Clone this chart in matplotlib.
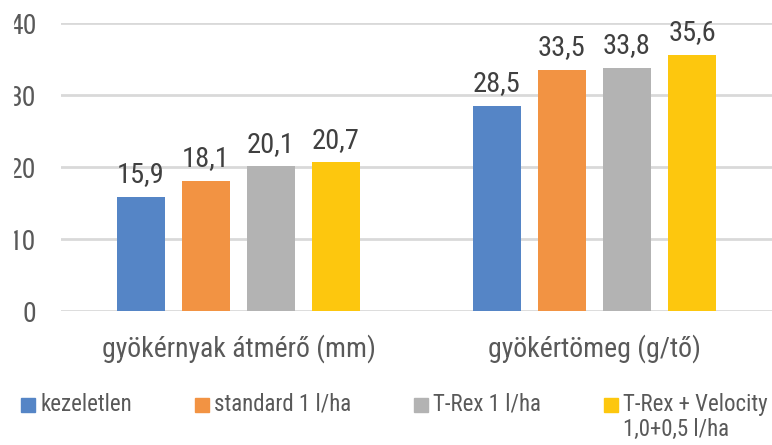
import matplotlib
matplotlib.use("Agg")
import matplotlib.pyplot as plt
from matplotlib.patches import Rectangle
import numpy as np

plt.rcParams["font.family"] = ["Roboto Condensed", "DejaVu Sans"]

categories = ["gyökérnyak átmérő (mm)", "gyökértömeg (g/tő)"]
series = ["kezeletlen", "standard 1 l/ha", "T-Rex 1 l/ha", "T-Rex + Velocity\n1,0+0,5 l/ha"]
values = [
    [15.9, 28.5],
    [18.1, 33.5],
    [20.1, 33.8],
    [20.7, 35.6],
]
colors = ["#5585C6", "#F29343", "#B3B3B3", "#FDC70E"]
yticks = [0, 10, 20, 30, 40]

dark = "#404040"
grey = "#595959"
W, H = 772, 445
fig = plt.figure(figsize=(W / 100, H / 100), dpi=100)
ax = fig.add_axes([60.5 / W, 134 / H, 712 / W, 288 / H])

x = np.arange(len(categories))
step = 0.1826
width = 0.135
for i, (name, vals, c) in enumerate(zip(series, values, colors)):
    offs = (i - (len(series) - 1) / 2) * step
    bars = ax.bar(x + offs, vals, width, color=c, zorder=3)
    ax.bar_label(bars, labels=[f"{v:.1f}".replace(".", ",") for v in vals],
                 padding=6, fontsize=20.5, color=dark)

ax.set_xlim(-0.5, 1.5)
ax.set_ylim(0, 40)
ax.set_yticks(yticks)
ax.set_xticks(x)
ax.set_xticklabels(categories)
ax.tick_params(axis="y", length=0, pad=17.5, labelsize=20, labelcolor=grey)
ax.tick_params(axis="x", length=0, pad=17, labelsize=20, labelcolor=grey)
ax.grid(axis="y", color="#D9D9D9", linewidth=2, zorder=0)
for s in ax.spines.values():
    s.set_visible(False)

# legend drawn by hand to mimic the Excel layout
renderer = fig.canvas.get_renderer()
xpos = 21
for name, c in zip(series, colors):
    fig.patches.append(Rectangle((xpos / W, (H - 412) / H), 14 / W, 14 / H,
                                 transform=fig.transFigure, color=c))
    t = fig.text((xpos + 19) / W, (H - 393) / H, name, fontsize=16.5,
                 color=grey, va="top", ha="left", linespacing=1.12)
    bb = t.get_window_extent(renderer)
    xpos = bb.x1 + 63

# the source image is cropped at the left edge
fig.patches.append(Rectangle((0, 0), 13 / W, 1, transform=fig.transFigure,
                             color="white", zorder=10))

fig.savefig("out.png", dpi=100)
